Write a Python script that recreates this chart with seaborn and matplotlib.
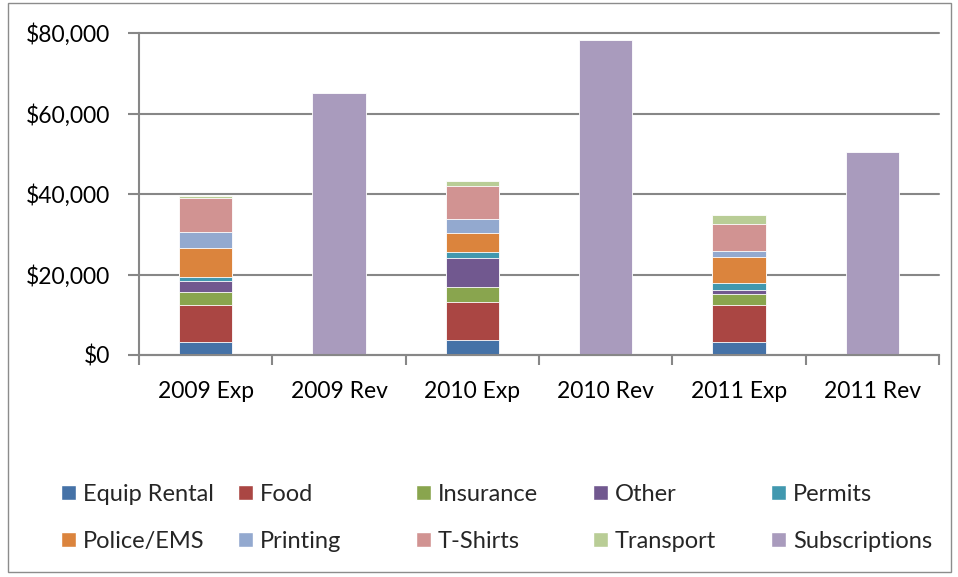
import matplotlib
matplotlib.use("Agg")
import matplotlib.pyplot as plt
import seaborn as sns
import numpy as np
from matplotlib.patches import Rectangle
from matplotlib.ticker import FuncFormatter, FixedLocator

categories = ["2009 Exp", "2009 Rev", "2010 Exp", "2010 Rev", "2011 Exp", "2011 Rev"]
series = ["Equip Rental", "Food", "Insurance", "Other", "Permits",
          "Police/EMS", "Printing", "T-Shirts", "Transport", "Subscriptions"]
equip_rental = [3150, 0, 3670, 0, 3250, 0]
food = [9380, 0, 9580, 0, 9250, 0]
insurance = [3240, 0, 3580, 0, 2670, 0]
other = [2650, 0, 7250, 0, 1000, 0]
permits = [1080, 0, 1580, 0, 1750, 0]
police_ems = [6970, 0, 4580, 0, 6330, 0]
printing = [4070, 0, 3670, 0, 1670, 0]
t_shirts = [8390, 0, 8170, 0, 6580, 0]
transport = [660, 0, 1250, 0, 2170, 0]
subscriptions = [0, 65200, 0, 78300, 0, 50400]
colors = ["#4572A7", "#AA4643", "#89A54E", "#71588F", "#4198AF",
          "#DB843D", "#93A9CF", "#D19392", "#B9CD96", "#A99BBD"]

values = [equip_rental, food, insurance, other, permits, police_ems,
          printing, t_shirts, transport, subscriptions]

sns.set_style("white")
plt.rcParams["font.family"] = ["Lato", "DejaVu Sans"]

fig = plt.figure(figsize=(9.58, 5.77), dpi=100)
ax = fig.add_axes([139 / 958, 222 / 577, 800 / 958, 322 / 577])

cum = np.cumsum(np.array(values, dtype=float), axis=0)
for i in reversed(range(len(series))):
    sns.barplot(x=categories, y=list(cum[i]), order=categories, color=colors[i],
                width=0.4, saturation=1, edgecolor="white", linewidth=0.6, ax=ax)

ax.set_xlim(-0.5, 5.5)
ax.set_ylim(0, 80000)
ax.set_yticks(np.arange(0, 80001, 20000))
ax.yaxis.set_major_formatter(FuncFormatter(lambda v, p: f"${v:,.0f}"))
ax.yaxis.grid(True, color="#878787", linewidth=1.5)
ax.set_axisbelow(True)
for gl in ax.get_ygridlines():
    gl.set_clip_on(False)

ax.xaxis.set_minor_locator(FixedLocator(np.arange(-0.5, 6.0, 1.0)))
ax.tick_params(axis="x", which="major", length=0, pad=19, labelsize=16.5, labelcolor="black")
ax.tick_params(axis="x", which="minor", length=7, width=1.5, color="#878787", direction="out")
ax.tick_params(axis="y", which="major", length=8, width=1.5, color="#878787",
               direction="out", pad=13, labelsize=16.5, labelcolor="black")
ax.tick_params(bottom=True, left=True, which="both")

for s in ["top", "right"]:
    ax.spines[s].set_visible(False)
for s in ["left", "bottom"]:
    ax.spines[s].set_color("#878787")
    ax.spines[s].set_linewidth(1.5)
ax.set_xlabel("")
ax.set_ylabel("")

# Legend: 5 columns x 2 rows
handles = [Rectangle((0, 0), 1, 1, facecolor=c) for c in colors]
col_x = [61, 238, 416, 593, 771]
for col in range(5):
    idx = [col, col + 5]
    fig.legend([handles[j] for j in idx], [series[j] for j in idx],
               loc="upper left", bbox_to_anchor=(col_x[col] / 958, 1 - 484 / 577),
               frameon=False, fontsize=17, handlelength=0.62, handleheight=0.62,
               handletextpad=0.3, labelspacing=1.1, borderaxespad=0, borderpad=0)

fig.add_artist(Rectangle((8 / 958, 5 / 577), 943 / 958, 569 / 577,
                         transform=fig.transFigure, fill=False,
                         edgecolor="#8c8c8c", linewidth=1.0))

fig.savefig("out.png", dpi=100)
